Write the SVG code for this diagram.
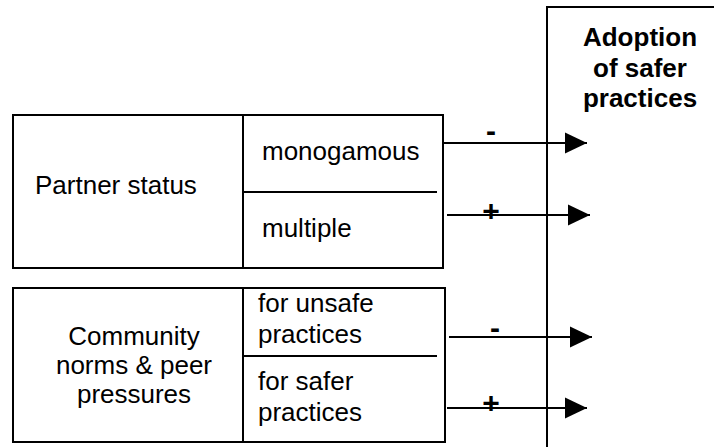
<svg xmlns="http://www.w3.org/2000/svg" width="714" height="447" viewBox="0 0 714 447">
<style>
.box{fill:none;stroke:#000;stroke-width:2}
.ln{stroke:#000;stroke-width:2;fill:none}
.t{font-family:"Liberation Sans",Arial,sans-serif;font-size:26px;fill:#000}
.b{font-family:"Liberation Sans",Arial,sans-serif;font-size:26px;font-weight:bold;fill:#000}
.s{font-family:"Liberation Sans",Arial,sans-serif;font-size:30px;font-weight:bold;fill:#000;text-anchor:middle}
</style>
<defs>
<marker id="ah" viewBox="0 0 22 22" refX="22" refY="11" markerWidth="22" markerHeight="22" markerUnits="userSpaceOnUse" orient="auto">
<path d="M0,0.5L22,11L0,21.5z" fill="#000"/>
</marker>
</defs>
<g id="adoption">
<rect class="box" x="547" y="7" width="220" height="460"/>
<text class="b" text-anchor="middle"><tspan x="640" y="46">Adoption</tspan><tspan x="640" y="77">of safer</tspan><tspan x="640" y="107">practices</tspan></text>
</g>
<g id="partner">
<rect class="box" x="13" y="115" width="430" height="153"/>
<line class="ln" x1="243" y1="115" x2="243" y2="268"/>
<line class="ln" x1="243" y1="192" x2="437" y2="192"/>
<text class="t" x="35" y="194">Partner status</text>
<text class="t" x="262" y="160">monogamous</text>
<text class="t" x="262" y="237">multiple</text>
</g>
<g id="community">
<rect class="box" x="13" y="288" width="432" height="154"/>
<line class="ln" x1="243" y1="288" x2="243" y2="442"/>
<line class="ln" x1="243" y1="356" x2="437" y2="356"/>
<text class="t" text-anchor="middle"><tspan x="134" y="345">Community</tspan><tspan x="134" y="374">norms &amp; peer</tspan><tspan x="134" y="403">pressures</tspan></text>
<text class="t"><tspan x="258" y="312">for unsafe</tspan><tspan x="258" y="343">practices</tspan></text>
<text class="t"><tspan x="258" y="390">for safer</tspan><tspan x="258" y="421">practices</tspan></text>
</g>
<g id="connectors">
<line class="ln" x1="443" y1="143" x2="587" y2="143" marker-end="url(#ah)"/>
<line class="ln" x1="447" y1="215" x2="590" y2="215" marker-end="url(#ah)"/>
<line class="ln" x1="449" y1="337" x2="592" y2="337" marker-end="url(#ah)"/>
<line class="ln" x1="447" y1="408" x2="587" y2="408" marker-end="url(#ah)"/>
<text class="s" x="491" y="141">-</text>
<text class="s" x="491" y="221">+</text>
<text class="s" x="495" y="338">-</text>
<text class="s" x="491" y="413">+</text>
</g>
</svg>
